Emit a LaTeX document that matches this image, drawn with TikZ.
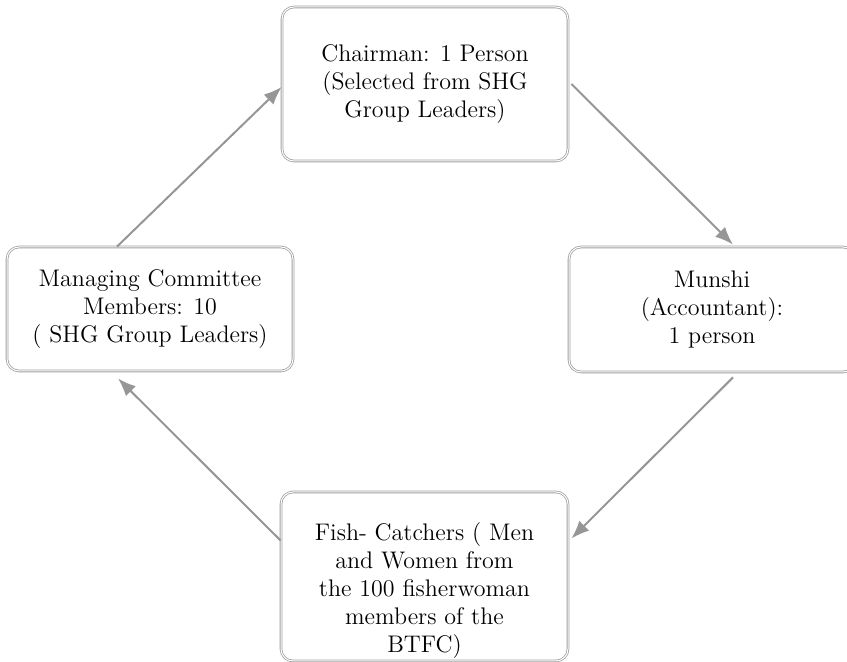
\documentclass[tikz,border=0pt]{standalone}
\usepackage{tikz}
\usetikzlibrary{arrows.meta}
\definecolor{boxgray}{RGB}{160,160,160}
\definecolor{arrowgray}{RGB}{150,150,150}
\tikzset{
  roundbox/.style={draw=boxgray, double=white, double distance=0.5pt, line width=0.4pt,
    rounded corners=6pt, fill=white, align=center, inner sep=0pt,
    font=\fontsize{12}{14}\selectfont},
  flowarrow/.style={draw=arrowgray, line width=1pt, -{Latex[length=9pt,width=7pt]}}
}

\begin{document}
\begin{tikzpicture}[x=0.5pt,y=-0.5pt]
\useasboundingbox (0,0) rectangle (847,662);
\node[roundbox, minimum width=143pt, minimum height=77pt] (chair) at (425,84) {Chairman: 1 Person\\(Selected from SHG\\Group Leaders)};
\node[roundbox, minimum width=143pt, minimum height=62.5pt] (munshi) at (712,309.5) {Munshi\\(Accountant):\\1 person};
\node[roundbox, minimum width=143pt, minimum height=62pt] (manage) at (150,309) {Managing Committee\\Members: 10\\( SHG Group Leaders)};
\node[roundbox, minimum width=143.5pt, minimum height=84.5pt] (fish) at (424.5,576.5) {};
\node[align=center, inner sep=0pt, font=\fontsize{12}{14}\selectfont] (fishtext) at (424.5,591) {Fish- Catchers ( Men\\and Women from\\the 100 fisherwoman\\members of the\\BTFC)};
\draw[flowarrow] ([xshift=-16.5pt]manage.north) -- ([yshift=-1.5pt]chair.west);
\draw[flowarrow] ([xshift=1.5pt]chair.east) -- ([xshift=10.5pt,yshift=1pt]munshi.north);
\draw[flowarrow] ([xshift=10.5pt,yshift=-2.5pt]munshi.south) -- ([xshift=1.5pt,yshift=19pt]fish.east);
\draw[flowarrow] ([yshift=18pt]fish.west) -- ([xshift=-16pt,yshift=-3.5pt]manage.south);
\end{tikzpicture}
\end{document}
